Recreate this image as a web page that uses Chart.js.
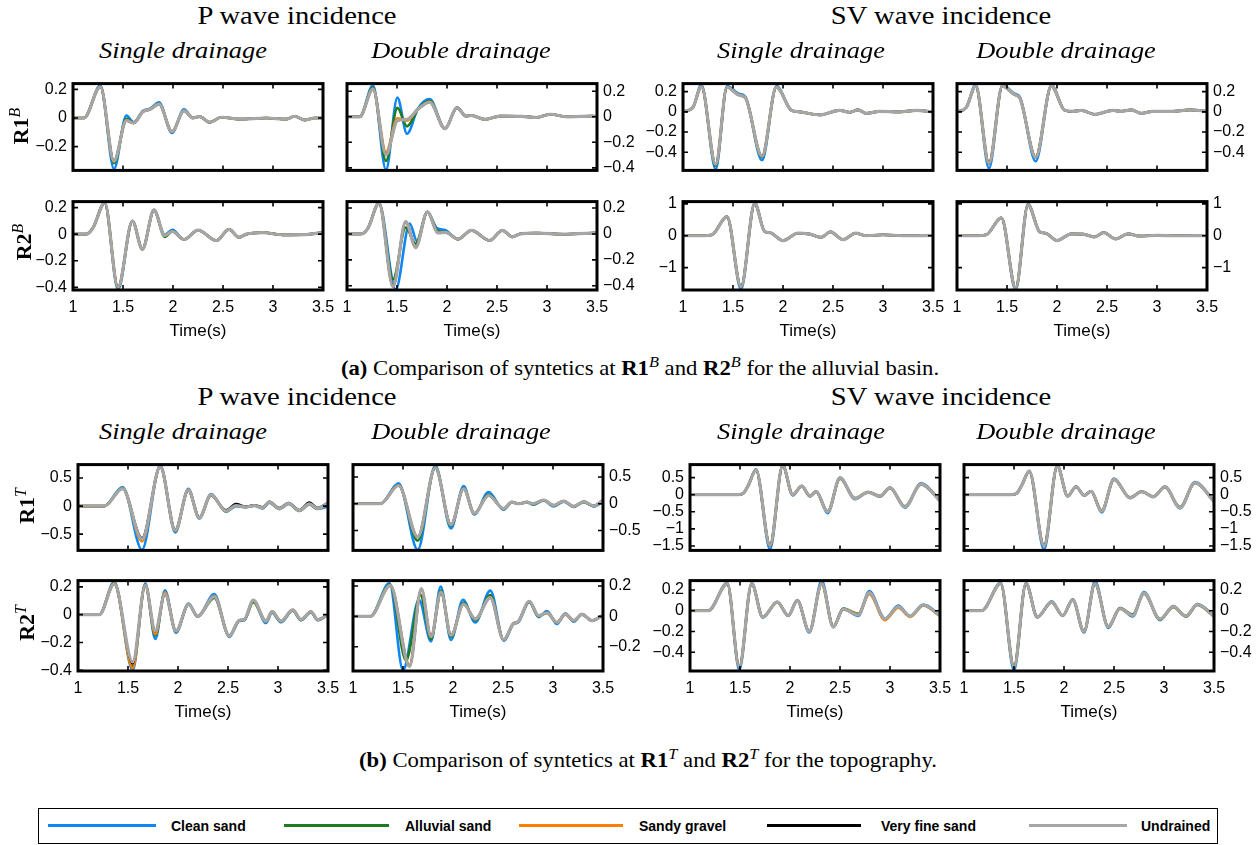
<!DOCTYPE html>
<html><head><meta charset="utf-8">
<script src="https://cdn.jsdelivr.net/npm/chart.js@4"></script>
<style>
html,body{margin:0;padding:0;width:1260px;height:845px;overflow:hidden;background:#fff;}
.tx{position:absolute;white-space:nowrap;line-height:1;color:#000;font-family:"Liberation Serif","Times New Roman",serif;}
.title{font-size:26px;transform:translate(-50%,-50%) scaleX(1.1);}
.sub{font-size:24px;font-style:italic;transform:translate(-50%,-50%) scaleX(1.1);}
.rl{font-size:22px;transform:translate(-50%,-50%) rotate(-90deg);}
.cap{font-size:21px;transform:translate(-50%,-50%) scaleX(1.08);}
sup{font-size:0.72em;vertical-align:0.5em;line-height:0;}
canvas{position:absolute;}
#legend{position:absolute;left:38px;top:808px;width:1180px;height:36px;border:1px solid #000;box-sizing:border-box;}
.lgl{position:absolute;height:0;border-top:3px solid;}
.lgt{position:absolute;font:bold 14px "Liberation Sans",Arial,sans-serif;white-space:nowrap;transform:translateY(-50%);}
</style>
</head><body>
<script>
// ---------- common axes ----------
const xTicks = [1, 1.5, 2, 2.5, 3, 3.5];
const seriesNames = ['Clean sand', 'Alluvial sand', 'Sandy gravel', 'Very fine sand', 'Undrained'];

const yT_b1_ps = [-0.2, 0, 0.2];
const yT_b1_pd = [-0.4, -0.2, 0, 0.2];
const yT_b1_s  = [-0.4, -0.2, 0, 0.2];
const yT_b2_p  = [-0.4, -0.2, 0, 0.2];
const yT_b2_s  = [-1, 0, 1];
const yT_t1_p  = [-0.5, 0, 0.5];
const yT_t1_s  = [-1.5, -1, -0.5, 0, 0.5];
const yT_t2_ps = [-0.4, -0.2, 0, 0.2];
const yT_t2_pd = [-0.2, 0, 0.2];
const yT_t2_s  = [-0.4, -0.2, 0, 0.2];

// ---------- R1B, P wave, single drainage ----------
const b1_ps_t         = [1.0, 1.11, 1.274, 1.41, 1.534, 1.607, 1.70, 1.77, 1.86, 1.99, 2.11, 2.2, 2.267, 2.367, 2.484, 2.667, 2.934, 3.134, 3.217, 3.317, 3.417, 3.5];
const b1_ps_undrained = [0, 0, 0.217, -0.30, -0.019, -0.035, 0.045, 0.06, 0.097, -0.095, 0.05, 0.0, 0.01, -0.03, 0.005, -0.008, 0.0, -0.008, 0.012, -0.015, 0.0, 0.0];
const b1_ps_clean     = [0, 0, 0.228, -0.355, 0.017, -0.03, 0.05, 0.065, 0.11, -0.105, 0.06, 0.0, 0.01, -0.03, 0.005, -0.008, 0.0, -0.008, 0.012, -0.015, 0.0, 0.0];
const b1_ps_alluvial  = [0, 0, 0.22, -0.315, -0.005, -0.035, 0.045, 0.06, 0.1, -0.098, 0.052, 0.0, 0.01, -0.03, 0.005, -0.008, 0.0, -0.008, 0.012, -0.015, 0.0, 0.0];
const b1_ps_gravel    = [0, 0, 0.218, -0.305, -0.015, -0.035, 0.045, 0.06, 0.098, -0.096, 0.05, 0.0, 0.01, -0.03, 0.005, -0.008, 0.0, -0.008, 0.012, -0.015, 0.0, 0.0];
const b1_ps_fine      = b1_ps_undrained;

// ---------- R1B, P wave, double drainage ----------
const b1_pd_t         = [1.0, 1.127, 1.26, 1.39, 1.504, 1.60, 1.71, 1.827, 1.98, 2.10, 2.19, 2.243, 2.38, 2.53, 2.75, 2.9, 3.03, 3.2, 3.46, 3.5];
const b1_pd_undrained = [0, 0, 0.216, -0.298, -0.03, -0.02, 0.06, 0.114, -0.092, 0.07, 0.005, 0.01, -0.02, 0.005, 0.003, -0.005, 0.02, 0.0, 0.005, 0.0];
const b1_pd_clean     = [0, 0, 0.247, -0.415, 0.15, -0.133, 0.065, 0.138, -0.095, 0.075, 0.005, 0.01, -0.02, 0.005, 0.003, -0.005, 0.02, 0.0, 0.005, 0.0];
const b1_pd_alluvial  = [0, 0, 0.23, -0.346, 0.07, -0.075, 0.06, 0.125, -0.093, 0.072, 0.005, 0.01, -0.02, 0.005, 0.003, -0.005, 0.02, 0.0, 0.005, 0.0];
const b1_pd_gravel    = [0, 0, 0.22, -0.276, -0.012, -0.03, 0.06, 0.118, -0.092, 0.07, 0.005, 0.01, -0.02, 0.005, 0.003, -0.005, 0.02, 0.0, 0.005, 0.0];
const b1_pd_fine      = b1_pd_undrained;

// ---------- R1B, SV wave, single drainage ----------
const b1_ss_t         = [1.0, 1.10, 1.184, 1.327, 1.44, 1.557, 1.623, 1.79, 1.934, 2.084, 2.167, 2.367, 2.567, 2.667, 2.75, 2.833, 2.967, 3.167, 3.334, 3.5];
const b1_ss_undrained = [0, 0.046, 0.25, -0.52, 0.244, 0.167, 0.14, -0.44, 0.244, 0.015, 0.0, -0.03, 0.015, -0.005, 0.02, -0.015, 0.005, 0.0, 0.015, 0.0];
const b1_ss_clean     = [0, 0.046, 0.27, -0.57, 0.255, 0.18, 0.15, -0.48, 0.255, 0.015, 0.0, -0.03, 0.015, -0.005, 0.02, -0.015, 0.005, 0.0, 0.015, 0.0];
const b1_ss_alluvial  = [0, 0.046, 0.255, -0.535, 0.247, 0.17, 0.143, -0.45, 0.247, 0.015, 0.0, -0.03, 0.015, -0.005, 0.02, -0.015, 0.005, 0.0, 0.015, 0.0];
const b1_ss_gravel    = b1_ss_undrained;
const b1_ss_fine      = b1_ss_undrained;

// ---------- R1B, SV wave, double drainage ----------
const b1_sd_t         = [1.0, 1.094, 1.187, 1.32, 1.454, 1.577, 1.627, 1.787, 1.944, 2.077, 2.16, 2.243, 2.377, 2.56, 2.64, 2.744, 2.844, 2.96, 3.16, 3.327, 3.5];
const b1_sd_undrained = [0, 0.045, 0.255, -0.51, 0.255, 0.17, 0.14, -0.45, 0.255, 0.015, 0.005, 0.015, -0.025, 0.015, 0.005, 0.02, -0.015, 0.005, 0.005, 0.02, 0.005];
const b1_sd_clean     = [0, 0.045, 0.27, -0.56, 0.265, 0.18, 0.15, -0.49, 0.265, 0.015, 0.005, 0.015, -0.025, 0.015, 0.005, 0.02, -0.015, 0.005, 0.005, 0.02, 0.005];
const b1_sd_alluvial  = b1_sd_undrained;
const b1_sd_gravel    = b1_sd_undrained;
const b1_sd_fine      = b1_sd_undrained;

// ---------- R2B, P wave, single drainage ----------
const b2_ps_t         = [1.0, 1.13, 1.2, 1.317, 1.45, 1.594, 1.694, 1.81, 1.917, 1.994, 2.11, 2.25, 2.434, 2.56, 2.66, 2.734, 2.9, 3.1, 3.3, 3.5];
const b2_ps_undrained = [0, 0, 0.048, 0.235, -0.40, 0.097, -0.113, 0.181, -0.01, 0.02, -0.04, 0.03, -0.048, 0.036, -0.024, 0.0, 0.012, -0.005, -0.004, 0.012];
const b2_ps_clean     = [0, 0, 0.048, 0.235, -0.418, 0.1, -0.113, 0.183, -0.004, 0.032, -0.04, 0.03, -0.05, 0.036, -0.024, 0.0, 0.012, -0.005, -0.004, 0.012];
const b2_ps_alluvial  = [0, 0, 0.048, 0.235, -0.405, 0.097, -0.113, 0.181, -0.02, 0.022, -0.04, 0.03, -0.048, 0.036, -0.024, 0.0, 0.012, -0.005, -0.004, 0.012];
const b2_ps_gravel    = b2_ps_undrained;
const b2_ps_fine      = b2_ps_undrained;

// ---------- R2B, P wave, double drainage ----------
const b2_pd_t         = [1.0, 1.143, 1.21, 1.32, 1.46, 1.587, 1.687, 1.804, 1.91, 1.987, 2.11, 2.244, 2.427, 2.554, 2.654, 2.727, 2.9, 3.16, 3.5];
const b2_pd_undrained = [0, 0, 0.045, 0.238, -0.406, 0.095, -0.105, 0.17, 0.008, 0.012, -0.04, 0.028, -0.05, 0.028, -0.023, 0.0, 0.007, -0.002, 0.008];
const b2_pd_clean_t   = [1.0, 1.143, 1.21, 1.32, 1.487, 1.627, 1.70, 1.804, 1.90, 1.98, 2.11, 2.244, 2.427, 2.554, 2.654, 2.727, 2.9, 3.16, 3.5];
const b2_pd_clean     = [0, 0, 0.045, 0.238, -0.43, 0.08, -0.055, 0.17, 0.045, 0.03, -0.04, 0.028, -0.05, 0.028, -0.023, 0.0, 0.007, -0.002, 0.008];
const b2_pd_alluvial  = [0, 0, 0.045, 0.238, -0.35, 0.05, -0.075, 0.17, 0.02, 0.015, -0.04, 0.028, -0.05, 0.028, -0.023, 0.0, 0.007, -0.002, 0.008];
const b2_pd_gravel    = [0, 0, 0.045, 0.238, -0.40, 0.09, -0.1, 0.17, 0.01, 0.012, -0.04, 0.028, -0.05, 0.028, -0.023, 0.0, 0.007, -0.002, 0.008];
const b2_pd_fine      = b2_pd_undrained;

// ---------- R2B, SV wave, single drainage ----------
const b2_ss_t         = [1.0, 1.20, 1.29, 1.44, 1.58, 1.717, 1.817, 1.867, 2.0, 2.15, 2.267, 2.384, 2.473, 2.6, 2.727, 2.833, 3.0, 3.2, 3.5];
const b2_ss_undrained = [0, 0, 0.03, 0.6, -1.6, 1.0, 0.13, 0.1, -0.15, 0.08, 0.05, -0.05, 0.12, -0.12, 0.08, 0.0, 0.03, 0.0, 0.01];
const b2_ss_clean     = [0, 0, 0.03, 0.6, -1.68, 1.04, 0.13, 0.1, -0.15, 0.08, 0.05, -0.05, 0.12, -0.12, 0.08, 0.0, 0.03, 0.0, 0.01];
const b2_ss_alluvial  = b2_ss_undrained;
const b2_ss_gravel    = b2_ss_undrained;
const b2_ss_fine      = b2_ss_undrained;

// ---------- R2B, SV wave, double drainage ----------
const b2_sd_t         = [1.0, 1.20, 1.293, 1.444, 1.587, 1.71, 1.827, 1.887, 2.0, 2.144, 2.26, 2.377, 2.467, 2.587, 2.71, 2.827, 3.0, 3.2, 3.5];
const b2_sd_undrained = [0, 0, 0.03, 0.56, -1.64, 0.97, 0.12, 0.08, -0.15, 0.06, 0.05, -0.04, 0.1, -0.1, 0.06, -0.01, 0.01, 0.0, 0.005];
const b2_sd_clean     = [0, 0, 0.03, 0.56, -1.7, 1.0, 0.12, 0.08, -0.15, 0.06, 0.05, -0.04, 0.1, -0.1, 0.06, -0.01, 0.01, 0.0, 0.005];
const b2_sd_alluvial  = b2_sd_undrained;
const b2_sd_gravel    = b2_sd_undrained;
const b2_sd_fine      = b2_sd_undrained;

// ---------- R1T, P wave, single drainage ----------
const t1_ps_t         = [1.0, 1.263, 1.446, 1.64, 1.823, 1.973, 2.103, 2.213, 2.33, 2.48, 2.58, 2.68, 2.763, 2.846, 2.913, 3.013, 3.106, 3.213, 3.313, 3.396, 3.5];
const t1_ps_undrained = [0, 0, 0.313, -0.59, 0.70, -0.43, 0.287, -0.21, 0.20, -0.087, 0.01, -0.016, 0.01, -0.03, 0.077, -0.044, 0.05, -0.08, 0.04, -0.04, 0.05];
const t1_ps_clean     = [0, 0, 0.34, -0.78, 0.73, -0.47, 0.31, -0.22, 0.215, -0.10, 0.0, -0.02, 0.005, -0.04, 0.06, -0.05, 0.04, -0.08, 0.03, -0.05, -0.01];
const t1_ps_alluvial  = [0, 0, 0.32, -0.61, 0.70, -0.44, 0.29, -0.21, 0.2, -0.09, 0.01, -0.016, 0.01, -0.035, 0.07, -0.05, 0.045, -0.085, 0.035, -0.045, 0.03];
const t1_ps_gravel    = [0, 0, 0.315, -0.63, 0.70, -0.44, 0.29, -0.21, 0.2, -0.09, 0.01, -0.016, 0.01, -0.03, 0.075, -0.045, 0.05, -0.08, 0.04, -0.04, 0.04];
const t1_ps_fine      = [0, 0, 0.31, -0.57, 0.70, -0.42, 0.28, -0.2, 0.19, -0.07, 0.04, -0.01, 0.02, -0.02, 0.08, -0.03, 0.06, -0.07, 0.067, -0.03, 0.066];

// ---------- R1T, P wave, double drainage ----------
const t1_pd_t         = [1.0, 1.273, 1.456, 1.647, 1.823, 1.98, 2.106, 2.213, 2.356, 2.506, 2.59, 2.656, 2.74, 2.80, 2.907, 3.007, 3.107, 3.207, 3.307, 3.406, 3.5];
const t1_pd_undrained = [0, 0, 0.34, -0.62, 0.67, -0.39, 0.28, -0.18, 0.154, -0.09, 0.03, 0.0, 0.03, 0.0, 0.07, -0.03, 0.05, -0.05, 0.04, -0.04, 0.07];
const t1_pd_clean     = [0, 0, 0.38, -0.86, 0.71, -0.46, 0.33, -0.2, 0.22, -0.11, 0.03, 0.0, 0.03, -0.02, 0.06, -0.05, 0.04, -0.06, 0.03, -0.05, 0.04];
const t1_pd_alluvial  = [0, 0, 0.35, -0.69, 0.68, -0.41, 0.29, -0.19, 0.17, -0.1, 0.03, 0.0, 0.03, -0.01, 0.065, -0.035, 0.045, -0.05, 0.035, -0.045, 0.06];
const t1_pd_gravel    = t1_pd_undrained;
const t1_pd_fine      = t1_pd_undrained;

// ---------- R1T, SV wave, single drainage ----------
const t1_ss_t         = [1.0, 1.483, 1.533, 1.583, 1.66, 1.80, 1.927, 2.027, 2.117, 2.2, 2.26, 2.377, 2.5, 2.65, 2.783, 2.9, 3.0, 3.15, 3.31, 3.5];
const t1_ss_undrained = [0, 0, 0.04, 0.27, 0.72, -1.48, 0.85, 0.0, 0.25, -0.04, 0.09, -0.5, 0.49, -0.11, 0.07, -0.045, 0.2, -0.36, 0.31, -0.18];
const t1_ss_clean     = [0, 0, 0.04, 0.28, 0.74, -1.6, 0.87, -0.02, 0.25, -0.05, 0.1, -0.54, 0.5, -0.13, 0.08, -0.06, 0.21, -0.38, 0.33, -0.17];
const t1_ss_alluvial  = [0, 0, 0.04, 0.27, 0.72, -1.48, 0.85, 0.0, 0.25, -0.04, 0.09, -0.49, 0.47, -0.1, 0.08, -0.04, 0.2, -0.34, 0.3, -0.14];
const t1_ss_gravel    = [0, 0, 0.04, 0.27, 0.72, -1.5, 0.85, 0.0, 0.25, -0.04, 0.09, -0.5, 0.48, -0.11, 0.07, -0.045, 0.2, -0.35, 0.31, -0.16];
const t1_ss_fine      = t1_ss_undrained;

// ---------- R1T, SV wave, double drainage ----------
const t1_sd_t         = [1.0, 1.477, 1.527, 1.577, 1.653, 1.80, 1.933, 2.037, 2.12, 2.203, 2.27, 2.377, 2.5, 2.66, 2.777, 2.893, 3.01, 3.16, 3.31, 3.5];
const t1_sd_undrained = [0, 0, 0.04, 0.27, 0.68, -1.5, 0.83, -0.04, 0.23, -0.02, 0.1, -0.48, 0.45, -0.09, 0.09, -0.06, 0.23, -0.38, 0.35, -0.2];
const t1_sd_clean     = [0, 0, 0.04, 0.28, 0.7, -1.61, 0.86, -0.05, 0.24, -0.03, 0.1, -0.52, 0.47, -0.1, 0.1, -0.07, 0.24, -0.4, 0.37, -0.19];
const t1_sd_alluvial  = [0, 0, 0.04, 0.27, 0.68, -1.5, 0.83, -0.04, 0.23, -0.02, 0.1, -0.47, 0.44, -0.08, 0.09, -0.05, 0.22, -0.36, 0.34, -0.17];
const t1_sd_gravel    = t1_sd_undrained;
const t1_sd_fine      = t1_sd_undrained;

// ---------- R2T, P wave, single drainage ----------
const t2_ps_t         = [1.0, 1.213, 1.363, 1.547, 1.673, 1.773, 1.87, 1.98, 2.106, 2.196, 2.363, 2.513, 2.613, 2.663, 2.753, 2.88, 2.94, 3.03, 3.147, 3.23, 3.33, 3.396, 3.5];
const t2_ps_undrained = [0, 0, 0.222, -0.34, 0.21, -0.117, 0.15, -0.117, 0.075, -0.012, 0.13, -0.152, -0.04, -0.035, 0.105, -0.047, 0.023, -0.047, 0.035, -0.035, 0.023, -0.035, 0.0];
const t2_ps_clean     = [0, 0, 0.236, -0.40, 0.225, -0.175, 0.175, -0.13, 0.08, -0.015, 0.148, -0.16, -0.045, -0.04, 0.1, -0.06, 0.015, -0.055, 0.03, -0.04, 0.018, -0.04, 0.0];
const t2_ps_alluvial  = [0, 0, 0.23, -0.37, 0.215, -0.15, 0.16, -0.12, 0.075, -0.012, 0.12, -0.15, -0.042, -0.037, 0.09, -0.05, 0.02, -0.05, 0.03, -0.038, 0.02, -0.038, 0.0];
const t2_ps_gravel    = [0, 0, 0.225, -0.385, 0.215, -0.14, 0.16, -0.12, 0.075, -0.012, 0.135, -0.155, -0.04, -0.035, 0.1, -0.047, 0.023, -0.047, 0.035, -0.035, 0.023, -0.035, 0.0];
const t2_ps_fine      = [0, 0, 0.222, -0.35, 0.21, -0.12, 0.15, -0.117, 0.075, -0.012, 0.13, -0.152, -0.04, -0.035, 0.105, -0.047, 0.023, -0.047, 0.035, -0.035, 0.023, -0.035, 0.0];

// ---------- R2T, P wave, double drainage ----------
const t2_pd_t         = [1.0, 1.173, 1.373, 1.566, 1.683, 1.78, 1.88, 1.98, 2.106, 2.223, 2.373, 2.506, 2.606, 2.65, 2.763, 2.856, 2.94, 3.04, 3.123, 3.207, 3.29, 3.39, 3.5];
const t2_pd_undrained = [0, 0, 0.204, -0.33, 0.183, -0.133, 0.16, -0.125, 0.08, -0.017, 0.124, -0.154, -0.046, -0.035, 0.1, 0.005, 0.023, -0.04, 0.015, -0.027, 0.013, -0.027, 0.008];
const t2_pd_clean_t   = [1.0, 1.173, 1.365, 1.50, 1.66, 1.78, 1.877, 1.98, 2.10, 2.223, 2.373, 2.51, 2.606, 2.65, 2.763, 2.856, 2.94, 3.04, 3.123, 3.207, 3.29, 3.39, 3.5];
const t2_pd_clean     = [0, 0, 0.22, -0.355, 0.11, -0.165, 0.196, -0.156, 0.11, -0.04, 0.17, -0.16, -0.05, -0.04, 0.095, -0.005, 0.035, -0.05, 0.02, -0.035, 0.015, -0.03, 0.008];
const t2_pd_alluvial_t = [1.0, 1.173, 1.37, 1.53, 1.675, 1.78, 1.88, 1.98, 2.106, 2.223, 2.373, 2.506, 2.606, 2.65, 2.763, 2.856, 2.94, 3.04, 3.123, 3.207, 3.29, 3.39, 3.5];
const t2_pd_alluvial  = [0, 0, 0.21, -0.29, 0.14, -0.15, 0.17, -0.135, 0.09, -0.025, 0.14, -0.155, -0.046, -0.036, 0.095, 0.0, 0.025, -0.042, 0.015, -0.028, 0.013, -0.028, 0.008];
const t2_pd_gravel    = [0, 0, 0.205, -0.32, 0.175, -0.135, 0.16, -0.125, 0.082, -0.018, 0.126, -0.154, -0.046, -0.035, 0.1, 0.005, 0.023, -0.04, 0.015, -0.027, 0.013, -0.027, 0.008];
const t2_pd_fine      = t2_pd_undrained;

// ---------- R2T, SV wave, single drainage ----------
const t2_ss_t         = [1.0, 1.183, 1.373, 1.493, 1.617, 1.727, 1.873, 1.983, 2.073, 2.193, 2.317, 2.433, 2.533, 2.683, 2.793, 2.95, 3.083, 3.2, 3.333, 3.5];
const t2_ss_undrained = [0, 0, 0.26, -0.54, 0.26, -0.06, 0.083, -0.046, 0.1, -0.2, 0.26, -0.154, 0.015, -0.04, 0.175, -0.077, 0.04, -0.052, 0.055, -0.046];
const t2_ss_clean     = [0, 0, 0.27, -0.57, 0.27, -0.065, 0.085, -0.05, 0.1, -0.21, 0.29, -0.16, 0.02, -0.05, 0.19, -0.08, 0.05, -0.05, 0.06, -0.04];
const t2_ss_alluvial  = [0, 0, 0.26, -0.54, 0.26, -0.06, 0.083, -0.046, 0.1, -0.2, 0.26, -0.15, 0.02, -0.03, 0.17, -0.085, 0.035, -0.055, 0.05, -0.05];
const t2_ss_gravel    = [0, 0, 0.26, -0.54, 0.26, -0.06, 0.083, -0.046, 0.1, -0.2, 0.26, -0.154, 0.015, -0.035, 0.16, -0.09, 0.03, -0.06, 0.05, -0.05];
const t2_ss_fine      = t2_ss_undrained;

// ---------- R2T, SV wave, double drainage ----------
const t2_sd_t         = [1.0, 1.177, 1.367, 1.5, 1.62, 1.733, 1.877, 1.987, 2.087, 2.2, 2.31, 2.443, 2.56, 2.687, 2.8, 2.96, 3.093, 3.22, 3.333, 3.5];
const t2_sd_undrained = [0, 0, 0.26, -0.54, 0.26, -0.06, 0.083, -0.046, 0.105, -0.2, 0.26, -0.154, 0.02, -0.046, 0.17, -0.08, 0.04, -0.05, 0.06, -0.05];
const t2_sd_clean     = [0, 0, 0.27, -0.575, 0.27, -0.065, 0.09, -0.05, 0.11, -0.21, 0.285, -0.165, 0.025, -0.055, 0.18, -0.09, 0.045, -0.055, 0.065, -0.045];
const t2_sd_alluvial  = [0, 0, 0.26, -0.54, 0.26, -0.06, 0.083, -0.046, 0.105, -0.2, 0.26, -0.15, 0.025, -0.035, 0.165, -0.085, 0.035, -0.055, 0.055, -0.055];
const t2_sd_gravel    = t2_sd_undrained;
const t2_sd_fine      = t2_sd_undrained;

// ---------- styles ----------
const colors = ['#0f86f5', '#1e7b1e', '#ff8000', '#000000', '#a6a6a6'];
const widths = [2.6, 2.6, 2.6, 2.2, 3.2];

// panel layout (pixels) and y ranges
const panels = [
  {L:73,  R:323,  T:80,  B:174, side:'left',  ymin:-0.366, ymax:0.24, yt:yT_b1_ps, xlab:false,
   s:[[b1_ps_t,b1_ps_clean],[b1_ps_t,b1_ps_alluvial],[b1_ps_t,b1_ps_gravel],[b1_ps_t,b1_ps_fine],[b1_ps_t,b1_ps_undrained]]},
  {L:347, R:597,  T:80,  B:174, side:'right', ymin:-0.42, ymax:0.26, yt:yT_b1_pd, xlab:false,
   s:[[b1_pd_t,b1_pd_clean],[b1_pd_t,b1_pd_alluvial],[b1_pd_t,b1_pd_gravel],[b1_pd_t,b1_pd_fine],[b1_pd_t,b1_pd_undrained]]},
  {L:683, R:933,  T:80,  B:174, side:'left',  ymin:-0.58, ymax:0.28, yt:yT_b1_s, xlab:false,
   s:[[b1_ss_t,b1_ss_clean],[b1_ss_t,b1_ss_alluvial],[b1_ss_t,b1_ss_gravel],[b1_ss_t,b1_ss_fine],[b1_ss_t,b1_ss_undrained]]},
  {L:957, R:1207, T:80,  B:174, side:'right', ymin:-0.58, ymax:0.28, yt:yT_b1_s, xlab:false,
   s:[[b1_sd_t,b1_sd_clean],[b1_sd_t,b1_sd_alluvial],[b1_sd_t,b1_sd_gravel],[b1_sd_t,b1_sd_fine],[b1_sd_t,b1_sd_undrained]]},

  {L:73,  R:323,  T:198, B:290, side:'left',  ymin:-0.42, ymax:0.245, yt:yT_b2_p, xlab:true,
   s:[[b2_ps_t,b2_ps_clean],[b2_ps_t,b2_ps_alluvial],[b2_ps_t,b2_ps_gravel],[b2_ps_t,b2_ps_fine],[b2_ps_t,b2_ps_undrained]]},
  {L:347, R:597,  T:198, B:290, side:'right', ymin:-0.433, ymax:0.25, yt:yT_b2_p, xlab:true,
   s:[[b2_pd_clean_t,b2_pd_clean],[b2_pd_t,b2_pd_alluvial],[b2_pd_t,b2_pd_gravel],[b2_pd_t,b2_pd_fine],[b2_pd_t,b2_pd_undrained]]},
  {L:683, R:933,  T:198, B:290, side:'left',  ymin:-1.7, ymax:1.07, yt:yT_b2_s, xlab:true,
   s:[[b2_ss_t,b2_ss_clean],[b2_ss_t,b2_ss_alluvial],[b2_ss_t,b2_ss_gravel],[b2_ss_t,b2_ss_fine],[b2_ss_t,b2_ss_undrained]]},
  {L:957, R:1207, T:198, B:290, side:'right', ymin:-1.7, ymax:1.07, yt:yT_b2_s, xlab:true,
   s:[[b2_sd_t,b2_sd_clean],[b2_sd_t,b2_sd_alluvial],[b2_sd_t,b2_sd_gravel],[b2_sd_t,b2_sd_fine],[b2_sd_t,b2_sd_undrained]]},

  {L:78,  R:328,  T:461, B:554, side:'left',  ymin:-0.79, ymax:0.74, yt:yT_t1_p, xlab:false,
   s:[[t1_ps_t,t1_ps_clean],[t1_ps_t,t1_ps_alluvial],[t1_ps_t,t1_ps_gravel],[t1_ps_t,t1_ps_fine],[t1_ps_t,t1_ps_undrained]]},
  {L:353, R:603,  T:461, B:554, side:'right', ymin:-0.87, ymax:0.73, yt:yT_t1_p, xlab:false,
   s:[[t1_pd_t,t1_pd_clean],[t1_pd_t,t1_pd_alluvial],[t1_pd_t,t1_pd_gravel],[t1_pd_t,t1_pd_fine],[t1_pd_t,t1_pd_undrained]]},
  {L:690, R:940,  T:461, B:554, side:'left',  ymin:-1.63, ymax:0.88, yt:yT_t1_s, xlab:false,
   s:[[t1_ss_t,t1_ss_clean],[t1_ss_t,t1_ss_alluvial],[t1_ss_t,t1_ss_gravel],[t1_ss_t,t1_ss_fine],[t1_ss_t,t1_ss_undrained]]},
  {L:964, R:1214, T:461, B:554, side:'right', ymin:-1.63, ymax:0.88, yt:yT_t1_s, xlab:false,
   s:[[t1_sd_t,t1_sd_clean],[t1_sd_t,t1_sd_alluvial],[t1_sd_t,t1_sd_gravel],[t1_sd_t,t1_sd_fine],[t1_sd_t,t1_sd_undrained]]},

  {L:78,  R:328,  T:577, B:671, side:'left',  ymin:-0.405, ymax:0.245, yt:yT_t2_ps, xlab:true,
   s:[[t2_ps_t,t2_ps_clean],[t2_ps_t,t2_ps_alluvial],[t2_ps_t,t2_ps_gravel],[t2_ps_t,t2_ps_fine],[t2_ps_t,t2_ps_undrained]]},
  {L:353, R:603,  T:577, B:671, side:'right', ymin:-0.36, ymax:0.236, yt:yT_t2_pd, xlab:true,
   s:[[t2_pd_clean_t,t2_pd_clean],[t2_pd_alluvial_t,t2_pd_alluvial],[t2_pd_t,t2_pd_gravel],[t2_pd_t,t2_pd_fine],[t2_pd_t,t2_pd_undrained]]},
  {L:690, R:940,  T:577, B:671, side:'left',  ymin:-0.58, ymax:0.29, yt:yT_t2_s, xlab:true,
   s:[[t2_ss_t,t2_ss_clean],[t2_ss_t,t2_ss_alluvial],[t2_ss_t,t2_ss_gravel],[t2_ss_t,t2_ss_fine],[t2_ss_t,t2_ss_undrained]]},
  {L:964, R:1214, T:577, B:671, side:'right', ymin:-0.58, ymax:0.29, yt:yT_t2_s, xlab:true,
   s:[[t2_sd_t,t2_sd_clean],[t2_sd_t,t2_sd_alluvial],[t2_sd_t,t2_sd_gravel],[t2_sd_t,t2_sd_fine],[t2_sd_t,t2_sd_undrained]]}
];

Chart.defaults.font.family = '"Liberation Sans", Arial, Helvetica, sans-serif';
Chart.defaults.color = '#000';

const framePlugin = {
  id: 'frame',
  afterDatasetsDraw(chart) {
    const {ctx, chartArea: a, scales: {x, y}} = chart;
    ctx.save();
    ctx.strokeStyle = '#000';
    ctx.lineWidth = 1.6;
    ctx.beginPath();
    xTicks.forEach(v => {
      const px = x.getPixelForValue(v);
      ctx.moveTo(px, a.bottom); ctx.lineTo(px, a.bottom - 5);
      ctx.moveTo(px, a.top); ctx.lineTo(px, a.top + 5);
    });
    y.ticks.forEach(t => {
      const py = y.getPixelForValue(t.value);
      ctx.moveTo(a.left, py); ctx.lineTo(a.left + 5, py);
      ctx.moveTo(a.right, py); ctx.lineTo(a.right - 5, py);
    });
    ctx.stroke();
    ctx.lineWidth = 3;
    ctx.strokeRect(a.left, a.top, a.right - a.left, a.bottom - a.top);
    ctx.restore();
  }
};

function makeChart(p) {
  const yw = 60, side = 22, padT = 12;
  const padB = p.xlab ? 58 : 12;
  const padL = p.side === 'left' ? yw : side;
  const padR = p.side === 'left' ? side : yw;
  const w = (p.R - p.L) + padL + padR, h = (p.B - p.T) + padT + padB;
  const cv = document.createElement('canvas');
  cv.width = w; cv.height = h;
  cv.style.left = (p.L - padL) + 'px'; cv.style.top = (p.T - padT) + 'px';
  cv.style.width = w + 'px'; cv.style.height = h + 'px';
  document.body.appendChild(cv);
  const datasets = p.s.map((s, i) => ({
    label: seriesNames[i],
    data: s[0].map((tv, k) => ({x: tv, y: s[1][k]})),
    borderColor: colors[i],
    borderWidth: widths[i],
    cubicInterpolationMode: 'monotone',
    pointRadius: 0,
    fill: false,
    order: 4 - i
  }));
  new Chart(cv, {
    type: 'line',
    data: {datasets},
    options: {
      responsive: false, animation: false, devicePixelRatio: 1,
      layout: {padding: {left: p.side === 'left' ? 0 : padL, right: p.side === 'left' ? padR : 0, top: padT, bottom: p.xlab ? 0 : padB}},
      plugins: {legend: {display: false}, tooltip: {enabled: false}},
      events: [],
      scales: {
        x: {
          type: 'linear', min: 1, max: 3.5,
          grid: {display: false, drawTicks: false}, border: {display: false},
          afterBuildTicks: s => { s.ticks = xTicks.map(v => ({value: v})); },
          ticks: {display: p.xlab, padding: 8, font: {size: 16}, color: '#000', maxRotation: 0, autoSkip: false,
                  callback: v => String(v)},
          title: {display: p.xlab, text: 'Time(s)', font: {size: 17}, color: '#000', padding: {top: 0, bottom: 6}},
          afterFit: s => { s.height = p.xlab ? padB : 0; }
        },
        y: {
          type: 'linear', position: p.side, min: p.ymin, max: p.ymax,
          grid: {display: false, drawTicks: false}, border: {display: false},
          afterBuildTicks: s => { s.ticks = p.yt.map(v => ({value: v})); },
          ticks: {padding: 6, font: {size: 16}, color: '#000', autoSkip: false,
                  callback: v => (v < 0 ? '\u2212' + Math.abs(v) : String(v))},
          afterFit: s => { s.width = yw; }
        }
      }
    },
    plugins: [framePlugin]
  });
}
panels.forEach(makeChart);

// ---------- texts ----------
function addText(cls, x, y, html) {
  const d = document.createElement('div');
  d.className = 'tx ' + cls;
  d.style.left = x + 'px'; d.style.top = y + 'px';
  d.innerHTML = html;
  document.body.appendChild(d);
}
[[15.5, 50], [396.5, 431]].forEach(([ty, sy]) => {
  addText('title', 297, ty, 'P wave incidence');
  addText('title', 941, ty, 'SV wave incidence');
  addText('sub', 183, sy, 'Single drainage');
  addText('sub', 461, sy, 'Double drainage');
  addText('sub', 801, sy, 'Single drainage');
  addText('sub', 1066, sy, 'Double drainage');
});
addText('rl', 21, 126, '<b>R1</b><sup><i>B</i></sup>');
addText('rl', 24, 242, '<b>R2</b><sup><i>B</i></sup>');
addText('rl', 27, 506, '<b>R1</b><sup><i>T</i></sup>');
addText('rl', 27, 623, '<b>R2</b><sup><i>T</i></sup>');
addText('cap', 640, 368, '<b>(a)</b> Comparison of syntetics at <b>R1</b><sup><i>B</i></sup> and <b>R2</b><sup><i>B</i></sup> for the alluvial basin.');
addText('cap', 648, 760, '<b>(b)</b> Comparison of syntetics at <b>R1</b><sup><i>T</i></sup> and <b>R2</b><sup><i>T</i></sup> for the topography.');

// ---------- legend ----------
const legendPos = [[47, 155, 170], [283, 388, 404], [518, 622, 638], [766, 860, 880], [1028, 1126, 1140]];
const lg = document.createElement('div');
lg.id = 'legend';
document.body.appendChild(lg);
seriesNames.forEach((name, i) => {
  const [x1, x2, tx] = legendPos[i];
  const ln = document.createElement('div');
  ln.className = 'lgl';
  ln.style.left = (x1 - 38) + 'px'; ln.style.top = '15px';
  ln.style.width = (x2 - x1) + 'px'; ln.style.borderTopColor = colors[i];
  lg.appendChild(ln);
  const t = document.createElement('div');
  t.className = 'lgt';
  t.style.left = (tx - 38) + 'px'; t.style.top = '17px';
  t.textContent = name;
  lg.appendChild(t);
});
</script>
</body></html>
